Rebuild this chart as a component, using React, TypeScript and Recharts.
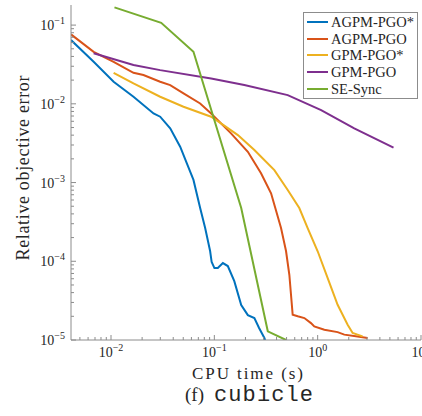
import { Line, LineChart, XAxis, YAxis } from "recharts";

// values: [CPU time (s), relative objective error]
const agpmStar: [number, number][] = [
  [0.0041, 0.0646], [0.00679, 0.0342], [0.0106, 0.0191], [0.0165, 0.0123],
  [0.0258, 0.00755], [0.0299, 0.00686], [0.0374, 0.00488], [0.0467, 0.00285],
  [0.0542, 0.00175], [0.0628, 0.00108], [0.0729, 0.000474], [0.0815, 0.000264],
  [0.091, 0.000135], [0.0942, 0.0000978], [0.1002, 0.000082], [0.108, 0.000082],
  [0.121, 0.000095], [0.135, 0.000087], [0.156, 0.000056], [0.182, 0.0000278],
  [0.211, 0.0000207], [0.244, 0.000019], [0.271, 0.0000142], [0.305, 0.0000106],
  [0.31, 0.00001],
];
const agpm: [number, number][] = [
  [0.0041, 0.0762], [0.00679, 0.0458], [0.0106, 0.0342], [0.0165, 0.0248],
  [0.0206, 0.0232], [0.0299, 0.0191], [0.0374, 0.0173], [0.0503, 0.0136],
  [0.0729, 0.0101], [0.0931, 0.00755], [0.145, 0.00422], [0.211, 0.00246],
  [0.283, 0.00131], [0.354, 0.00073], [0.389, 0.000474], [0.442, 0.000264],
  [0.494, 0.000135], [0.532, 0.0000674], [0.552, 0.0000376], [0.573, 0.0000209],
  [0.641, 0.00002], [0.743, 0.000019], [0.861, 0.0000164], [0.927, 0.0000149],
  [1.16, 0.0000135], [1.56, 0.0000126], [1.81, 0.0000117], [2.43, 0.0000111],
  [3.04, 0.0000106],
];
const gpmStar: [number, number][] = [
  [0.0106, 0.0248], [0.0165, 0.0182], [0.0299, 0.0123], [0.0503, 0.00918],
  [0.0931, 0.00686], [0.116, 0.00565], [0.169, 0.00401], [0.244, 0.00259],
  [0.381, 0.00144], [0.513, 0.000804], [0.664, 0.000474], [0.8, 0.000264],
  [1.0, 0.000134], [1.25, 0.0000612], [1.56, 0.000028], [1.95, 0.0000156],
  [2.18, 0.0000123], [2.43, 0.0000117], [2.72, 0.0000111],
];
const gpm: [number, number][] = [
  [0.00679, 0.0438], [0.0165, 0.0311], [0.0299, 0.0268], [0.0931, 0.021],
  [0.195, 0.0173], [0.513, 0.0129], [1.08, 0.00834], [2.26, 0.00488],
  [5.42, 0.00277],
];
const seSync: [number, number][] = [
  [0.0108, 0.168], [0.0306, 0.107], [0.0628, 0.0458], [0.182, 0.000474],
  [0.329, 0.0000129], [0.494, 0.00001],
];

const seriesNames = ["AGPM-PGO*", "AGPM-PGO", "GPM-PGO*", "GPM-PGO", "SE-Sync"];
const seriesColors = ["#0072BD", "#D95319", "#EDB120", "#7E2F8E", "#77AC30"];
const seriesData = [agpmStar, agpm, gpmStar, gpm, seSync];

const xDecades = [0.001, 0.01, 0.1, 1];
const yDecades = [0.00001, 0.0001, 0.001, 0.01, 0.1];
const minorSteps = [1, 2, 3, 4, 5, 6, 7, 8, 9];

const X_DOMAIN: [number, number] = [0.0041, 10];
const Y_DOMAIN: [number, number] = [0.00001, 0.18];

const AXIS = "#8c8c8c";
const TEXT = "#262626";
const SERIF = "'Liberation Serif', 'Times New Roman', serif";
const MONO = "'Liberation Mono', 'DejaVu Sans Mono', monospace";

const inside = (v: number, d: [number, number]) => v >= d[0] * 0.9999 && v <= d[1] * 1.0001;
const xTicks = [...xDecades.flatMap((d) => minorSteps.map((m) => d * m)), 10].filter((v) => inside(v, X_DOMAIN));
const yTicks = yDecades.flatMap((d) => minorSteps.map((m) => d * m)).filter((v) => inside(v, Y_DOMAIN));

function exponent(v: number) {
  const l = Math.log10(v);
  return Math.abs(l - Math.round(l)) < 1e-6 ? Math.round(l) : null;
}

function Pow({ e, ...rest }: any) {
  return (
    <text {...rest} fill={TEXT} fontFamily={SERIF} fontSize={14}>
      10
      <tspan dy={-6} fontSize={10}>
        {e < 0 ? `\u2212${-e}` : `${e}`}
      </tspan>
    </text>
  );
}

function BottomTick({ x, y, payload }: any) {
  const e = exponent(payload.value);
  return (
    <g>
      <line x1={x} x2={x} y1={y} y2={y - (e === null ? 3 : 5)} stroke={AXIS} />
      {e !== null && <Pow e={e} x={x} y={y + 17} textAnchor="middle" />}
    </g>
  );
}

function TopTick({ x, y, payload }: any) {
  const e = exponent(payload.value);
  return <line x1={x} x2={x} y1={y} y2={y + (e === null ? 3 : 5)} stroke={AXIS} />;
}

function LeftTick({ x, y, payload }: any) {
  const e = exponent(payload.value);
  return (
    <g>
      <line x1={x} x2={x + (e === null ? 3 : 5)} y1={y} y2={y} stroke={AXIS} />
      {e !== null && <Pow e={e} x={x - 6} y={y + 5} textAnchor="end" />}
    </g>
  );
}

function RightTick({ x, y, payload }: any) {
  const e = exponent(payload.value);
  return <line x1={x} x2={x - (e === null ? 3 : 5)} y1={y} y2={y} stroke={AXIS} />;
}

export default function App() {
  return (
    <div style={{ position: "absolute", left: 0, top: 0, width: 422, height: 416, background: "#fff" }}>
      <LineChart width={422} height={416} margin={{ top: 5, right: 1, bottom: 0, left: 0 }}>
        <XAxis
          xAxisId={0}
          dataKey="x"
          type="number"
          scale="log"
          domain={X_DOMAIN}
          allowDataOverflow
          ticks={xTicks}
          interval={0}
          tickSize={0}
          tickMargin={0}
          tick={<BottomTick />}
          height={76}
          stroke={AXIS}
        />
        <XAxis
          xAxisId="top"
          orientation="top"
          type="number"
          scale="log"
          domain={X_DOMAIN}
          allowDataOverflow
          ticks={xTicks}
          interval={0}
          tickSize={0}
          tickMargin={0}
          tick={<TopTick />}
          height={0}
          stroke={AXIS}
        />
        <YAxis
          yAxisId={0}
          type="number"
          scale="log"
          domain={Y_DOMAIN}
          allowDataOverflow
          ticks={yTicks}
          interval={0}
          tickSize={0}
          tickMargin={0}
          tick={<LeftTick />}
          width={71}
          stroke={AXIS}
        />
        <YAxis
          yAxisId="right"
          orientation="right"
          type="number"
          scale="log"
          domain={Y_DOMAIN}
          allowDataOverflow
          ticks={yTicks}
          interval={0}
          tickSize={0}
          tickMargin={0}
          tick={<RightTick />}
          width={0}
          stroke={AXIS}
        />
        {seriesData.map((s, i) => (
          <Line
            key={seriesNames[i]}
            data={s.map(([x, y]) => ({ x, y }))}
            dataKey="y"
            name={seriesNames[i]}
            type="linear"
            stroke={seriesColors[i]}
            strokeWidth={2}
            dot={false}
            isAnimationActive={false}
          />
        ))}
      </LineChart>

      <svg width={422} height={416} style={{ position: "absolute", left: 0, top: 0, pointerEvents: "none" }}>
        <text
          x={192}
          y={379}
          fill={TEXT}
          fontFamily={SERIF}
          fontSize={17}
          textLength={111}
          lengthAdjust="spacing"
        >
          CPU time (s)
        </text>
        <text x={185} y={401} fill={TEXT} fontFamily={SERIF} fontSize={19}>
          (f)
        </text>
        <text x={214} y={401} fill={TEXT} fontFamily={MONO} fontSize={22} textLength={99} lengthAdjust="spacing">
          cubicle
        </text>
        <text
          x={29}
          y={168}
          transform="rotate(-90 29 168)"
          textAnchor="middle"
          fill={TEXT}
          fontFamily={SERIF}
          fontSize={18}
          textLength={185}
          lengthAdjust="spacing"
        >
          Relative objective error
        </text>
      </svg>

      <div
        style={{
          position: "absolute",
          left: 303,
          top: 12,
          width: 113,
          height: 84,
          border: `1px solid ${AXIS}`,
          background: "#fff",
          paddingTop: 1,
          boxSizing: "content-box",
        }}
      >
        {seriesNames.map((n, i) => (
          <div key={n} style={{ display: "flex", alignItems: "center", height: 16.6 }}>
            <span style={{ display: "inline-block", marginLeft: 3, width: 21, height: 2, background: seriesColors[i] }} />
            <span style={{ marginLeft: 3, fontFamily: SERIF, fontSize: 14.5, color: TEXT, lineHeight: "16px" }}>{n}</span>
          </div>
        ))}
      </div>
    </div>
  );
}
